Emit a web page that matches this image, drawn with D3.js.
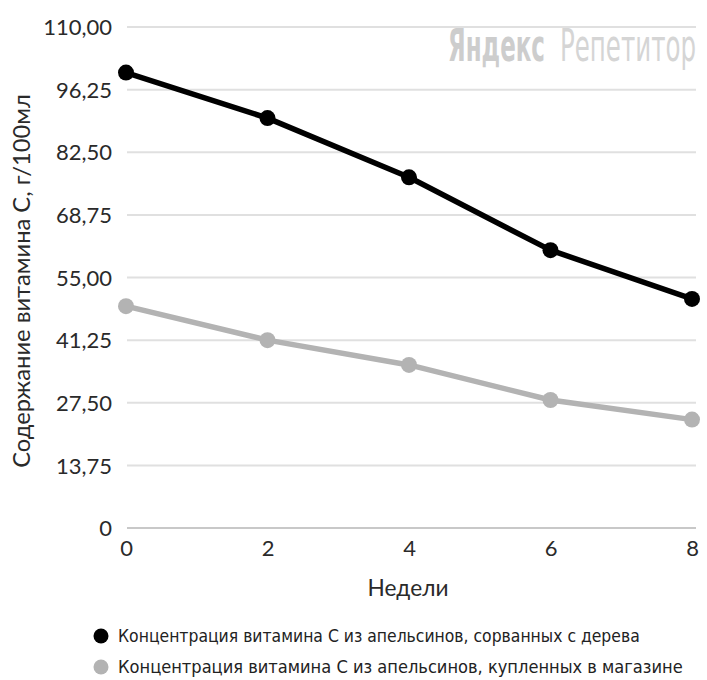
<!DOCTYPE html>
<html><head><meta charset="utf-8">
<script src="https://cdn.jsdelivr.net/npm/d3@7"></script>
<style>
html,body{margin:0;padding:0;background:#fff;}
svg{display:block;font-family:Lato,"Open Sans",sans-serif;}
</style></head>
<body><svg id="c" width="707" height="680"></svg>
<script>
const weeks = [0, 2, 4, 6, 8];
const treeSeries = [100, 90, 77, 61, 50.3];
const storeSeries = [48.7, 41.25, 35.8, 28.1, 23.8];
const yTickValues = [0, 13.75, 27.5, 41.25, 55, 68.75, 82.5, 96.25, 110];
const yTickLabels = ["0", "13,75", "27,50", "41,25", "55,00", "68,75", "82,50", "96,25", "110,00"];
const xTickLabels = ["0", "2", "4", "6", "8"];
const seriesNames = [
  "Концентрация витамина С из апельсинов, сорванных с дерева",
  "Концентрация витамина С из апельсинов, купленных в магазине"
];
const yTitle = "Содержание витамина С, г/100мл";
const xTitle = "Недели";
const watermarkWords = ["Яндекс", "Репетитор"];
const colors = ["#000000", "#b3b3b3"];

const svg = d3.select("#c");
const x = d3.scaleLinear().domain([0, 8]).range([126, 692]);
const y = d3.scaleLinear().domain([0, 110]).range([528, 27]);

// size a text's font so that its natural width is the target width
function fitWidth(sel, target, base) {
  sel.attr("font-size", base);
  const w = sel.node().getComputedTextLength();
  if (w > 0) sel.attr("font-size", base * target / w);
  return sel;
}
// condensed look: tall font squeezed horizontally to the target width
function squeeze(sel, px, py, target, size) {
  sel.attr("font-size", size).attr("x", 0).attr("y", 0);
  const w = sel.node().getComputedTextLength();
  const k = w > 0 ? target / w : 1;
  sel.attr("transform", `translate(${px},${py}) scale(${k},1)`);
  return sel;
}

// watermark
const wmFont = "'DejaVu Sans Condensed','Liberation Sans Narrow',Roboto,sans-serif";
squeeze(svg.append("text").attr("fill", "#cdcdcd").attr("font-weight", "bold")
  .attr("font-family", wmFont).text(watermarkWords[0]), 448, 61, 97, 44);
squeeze(svg.append("text").attr("fill", "#d5d5d5")
  .attr("font-family", wmFont).text(watermarkWords[1]), 560, 61, 136, 44);

// gridlines
svg.append("g").selectAll("line").data(yTickValues).join("line")
  .attr("x1", x(0) + 1).attr("x2", x(8) + 4)
  .attr("y1", d => y(d)).attr("y2", d => y(d))
  .attr("stroke", (d) => d === 0 ? "#c8c8c8" : "#e0e0e0")
  .attr("stroke-width", 2);

// y axis
const yAxis = d3.axisLeft(y).tickValues(yTickValues)
  .tickFormat((d, i) => yTickLabels[i]).tickSize(0).tickPadding(0);
const gy = svg.append("g").attr("transform", "translate(112,0)").call(yAxis);
gy.select(".domain").remove();
gy.selectAll("text").attr("font-size", 22).attr("fill", "#2a2a2a")
  .attr("font-family", "Lato,sans-serif").attr("dy", "0.35em");

// x axis
const xAxis = d3.axisBottom(x).tickValues(weeks)
  .tickFormat((d, i) => xTickLabels[i]).tickSize(0).tickPadding(0);
const gx = svg.append("g").attr("transform", "translate(0,540)").call(xAxis);
gx.select(".domain").remove();
gx.selectAll("text").attr("font-size", 22).attr("fill", "#2a2a2a")
  .attr("font-family", "Lato,sans-serif").attr("dy", "0.71em");

// titles
fitWidth(svg.append("text").attr("x", 408).attr("y", 596).attr("text-anchor", "middle")
  .attr("fill", "#2a2a2a").text(xTitle), 81, 22);
fitWidth(svg.append("text").attr("transform", "translate(30,281) rotate(-90)")
  .attr("text-anchor", "middle").attr("fill", "#2a2a2a")
  .text(yTitle), 374, 20);

// lines
const seriesList = [treeSeries, storeSeries];
const line = d3.line().x((d, i) => x(weeks[i])).y(d => y(d));
[1, 0].forEach(k => {
  const g = svg.append("g");
  g.append("path").datum(seriesList[k]).attr("d", line)
    .attr("fill", "none").attr("stroke", colors[k]).attr("stroke-width", 5.5)
    .attr("stroke-linejoin", "round");
  g.selectAll("circle").data(seriesList[k]).join("circle")
    .attr("cx", (d, i) => x(weeks[i])).attr("cy", d => y(d)).attr("r", 8)
    .attr("fill", colors[k]);
});

// legend
const leg = svg.append("g");
const legY = [636, 667];
const legLen = [522, 565];
seriesNames.forEach((name, i) => {
  leg.append("circle").attr("cx", 101).attr("cy", legY[i]).attr("r", 7.5).attr("fill", colors[i]);
  fitWidth(leg.append("text").attr("x", 118).attr("y", legY[i]).attr("dy", "0.35em")
    .attr("fill", "#222")
    .attr("font-family", "'DejaVu Sans Condensed','Liberation Sans Narrow',Lato,sans-serif")
    .text(name), legLen[i], 16);
});
</script></body></html>
